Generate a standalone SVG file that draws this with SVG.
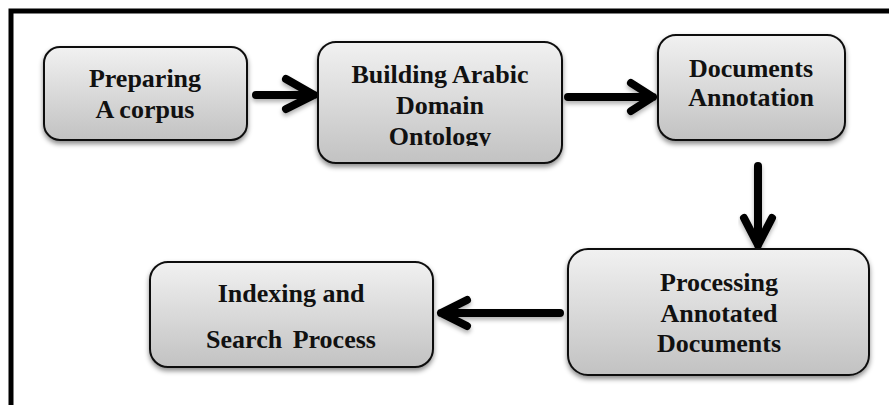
<svg xmlns="http://www.w3.org/2000/svg" width="889" height="405" viewBox="0 0 889 405">
  <defs>
    <linearGradient id="g" x1="0" y1="0" x2="0" y2="1">
      <stop offset="0" stop-color="#f1f1f1"/>
      <stop offset="1" stop-color="#c2c2c2"/>
    </linearGradient>
    <filter id="sh" x="-10%" y="-10%" width="120%" height="130%">
      <feDropShadow dx="0" dy="3" stdDeviation="2.5" flood-color="#000" flood-opacity="0.45"/>
    </filter>
    <filter id="ash" x="-20%" y="-20%" width="140%" height="160%">
      <feDropShadow dx="0" dy="3" stdDeviation="2" flood-color="#000" flood-opacity="0.3"/>
    </filter>
    <clipPath id="c2">
      <rect x="318" y="42" width="244" height="104"/>
    </clipPath>
    <style>
      .box { fill: url(#g); stroke: #111; stroke-width: 2; filter: url(#sh); }
      .t { font-family: "Liberation Serif", "Times New Roman", serif; font-weight: bold; font-size: 26px; fill: #111; text-anchor: middle; }
      .a { fill: none; stroke: #000; stroke-width: 8; stroke-linecap: round; stroke-linejoin: round; filter: url(#ash); }
      .frame { stroke: #000; stroke-width: 5; fill: none; }
    </style>
  </defs>
  <rect width="889" height="405" fill="#fff"/>
  <path class="frame" d="M11 405 V11 H889"/>

  <g id="connectors">
    <path class="a" d="M256 95 H314 M286 79 L314 95 L286 109"/>
    <path class="a" d="M568 97 H653 M631 83 L653 97 L631 111"/>
    <path class="a" d="M758 166 V245 M744 218 L758 245 L772 218"/>
    <path class="a" d="M560 313 H441 M467 300 L441 313 L467 326"/>
  </g>

  <g id="node-preparing">
    <rect class="box" x="44" y="47" width="203" height="93" rx="16"/>
    <text class="t" x="145" y="87">Preparing</text>
    <text class="t" x="145" y="118">A corpus</text>
  </g>

  <g id="node-building">
    <rect class="box" x="318" y="42" width="244" height="121" rx="18"/>
    <g clip-path="url(#c2)">
      <text class="t" x="440" y="83">Building Arabic</text>
      <text class="t" x="440" y="114">Domain</text>
      <text class="t" x="440" y="145">Ontology</text>
    </g>
  </g>

  <g id="node-annotation">
    <rect class="box" x="658" y="35" width="187" height="105" rx="18"/>
    <text class="t" x="751" y="77">Documents</text>
    <text class="t" x="751" y="106">Annotation</text>
  </g>

  <g id="node-processing">
    <rect class="box" x="568" y="249" width="301" height="126" rx="20"/>
    <text class="t" x="719" y="291">Processing</text>
    <text class="t" x="719" y="322">Annotated</text>
    <text class="t" x="719" y="352">Documents</text>
  </g>

  <g id="node-indexing">
    <rect class="box" x="150" y="262" width="283" height="105" rx="18"/>
    <text class="t" x="291" y="302">Indexing and</text>
    <text class="t" x="291" y="348" word-spacing="4">Search Process</text>
  </g>
</svg>
